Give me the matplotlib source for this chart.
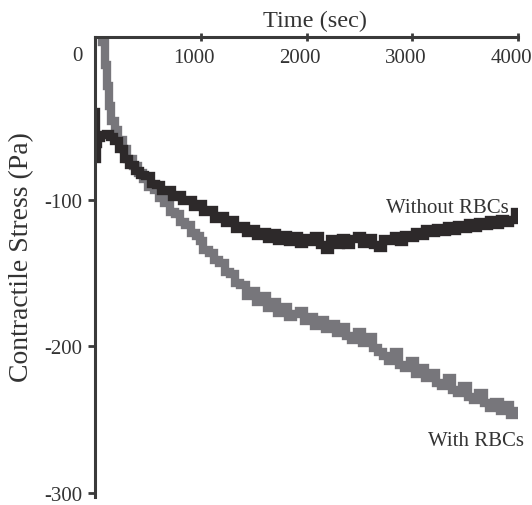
import numpy as np
import matplotlib
matplotlib.use("Agg")
import matplotlib.pyplot as plt
from matplotlib.transforms import offset_copy

plt.rcParams['font.family'] = ['Liberation Serif', 'DejaVu Serif']

# time (s) and contractile stress (Pa)
t_early_without = [0, 10, 20, 40, 80, 120, 160, 200, 250, 300, 350, 400, 450]
s_early_without = [-40, -72, -62, -58, -56, -55, -57, -60, -65, -72, -76, -80, -83]

t_early_with = [40, 60, 80, 100, 120, 140, 170, 200, 240, 280, 330, 380, 430,
                480, 530, 580, 630, 680, 730, 780, 830, 880, 930, 980]
s_early_with = [45, 25, 8, -8, -22, -36, -46, -52, -59, -65, -72, -77, -82,
                -86, -91, -93, -99, -102, -108, -110, -115, -117, -123, -125]

t_grid_without = np.arange(500, 4001, 50)
s_grid_without = [-84, -89, -90, -94, -93, -98, -97, -101, -100, -105,
                  -103, -108, -107, -113, -111, -116, -114, -120, -118, -123,
                  -120, -125, -122, -127, -123, -128, -124, -129, -125, -130,
                  -126, -129, -125, -131, -134, -127, -131, -126, -131, -127,
                  -125, -130, -126, -131, -133, -127, -128, -125, -129, -124,
                  -126, -122, -125, -120, -123, -119, -122, -118, -121, -117,
                  -120, -116, -119, -115, -118, -114, -117, -113, -116, -114,
                  -108]

t_grid_with = np.arange(1000, 4001, 50)
s_grid_with = [-128, -134, -136, -141, -143, -149, -151, -157, -158, -166,
               -162, -170, -166, -174, -170, -177, -173, -180, -178, -176,
               -183, -180, -186, -182, -188, -185, -191, -187, -193, -196,
               -190, -198, -194, -201, -204, -207, -210, -204, -213, -215,
               -210, -219, -215, -222, -218, -225, -227, -222, -230, -232,
               -227, -235, -237, -232, -239, -242, -238, -244, -240, -247,
               -244]

t_without = np.concatenate([t_early_without, t_grid_without])
s_without = np.concatenate([s_early_without, s_grid_without])
t_with = np.concatenate([t_early_with, t_grid_with])
s_with = np.concatenate([s_early_with, s_grid_with])

xticks = [1000, 2000, 3000, 4000]
yticks = [0, -100, -200, -300]

text_col = '#333333'
fig = plt.figure(figsize=(5.32, 5.06), dpi=100)
ax = fig.add_axes([0.1786, 0.0158, 0.7951, 0.9091])

ax.plot(t_with, s_with, color='#77767b', lw=6, drawstyle='steps-mid',
        solid_joinstyle='miter')
ax.plot(t_without, s_without, color='#2d292a', lw=6, drawstyle='steps-mid',
        solid_joinstyle='miter')

ax.set_xlim(0, 4000)
ax.set_ylim(-303, 11.2)

for side in ['right', 'bottom']:
    ax.spines[side].set_visible(False)
for side in ['left', 'top']:
    ax.spines[side].set_linewidth(2.2)
    ax.spines[side].set_color('#3a3a3a')

ax.xaxis.tick_top()
ax.set_xticks(xticks)
ax.set_xticklabels([])
ax.tick_params(axis='x', direction='inout', length=6, width=2, color='#3a3a3a')

ax.set_yticks(yticks)
ax.set_yticklabels([str(v) for v in yticks], fontsize=15, color=text_col)
ax.tick_params(axis='y', direction='out', length=5, width=2, pad=4,
               color='#3a3a3a')
ax.yaxis.get_major_ticks()[0].tick1line.set_visible(False)

# x tick labels sit just below the top spine
lab_tr = offset_copy(ax.get_xaxis_transform(), fig=fig, x=-5, y=0,
                     units='points')
for v in xticks:
    ax.text(v, 0.955, str(v), transform=lab_tr, ha='center', va='center',
            fontsize=15, color=text_col)

ax.xaxis.set_label_position('top')
ax.set_xlabel('Time (sec)', fontsize=17.5, color=text_col, va='center')
ax.xaxis.set_label_coords(0.52, 1.037)

ax.set_ylabel('Contractile Stress (Pa)', fontsize=20, color=text_col,
              va='center')
ax.yaxis.set_label_coords(-0.173, 0.524)

ax.text(3330, -105.5, 'Without RBCs', ha='center', va='center',
        fontsize=15, color=text_col)
ax.text(3603, -264.5, 'With RBCs', ha='center', va='center',
        fontsize=15, color=text_col)

fig.savefig('out.png', dpi=100)
